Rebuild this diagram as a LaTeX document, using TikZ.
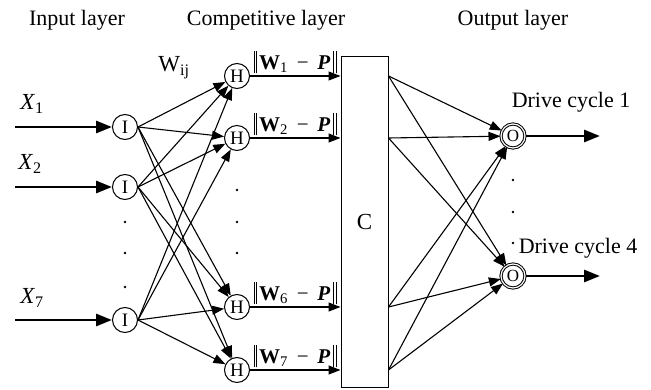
\documentclass[tikz,border=0pt]{standalone}
\usepackage{fontspec}
\setmainfont{Liberation Serif}
\usetikzlibrary{positioning}
\usetikzlibrary{calc}
\usetikzlibrary{arrows.meta}
\newcommand{\nbars}{\rule[-4pt]{0.7pt}{22pt}\kern1.6pt\rule[-4pt]{0.7pt}{22pt}}

\tikzset{
  neuron/.style={circle,draw,line width=1pt,inner sep=0pt,minimum size=25pt,
                 font=\fontsize{19}{19}\selectfont},
  outneuron/.style={neuron,double,double distance=1.2pt,minimum size=24pt,
                    font=\fontsize{17}{17}\selectfont},
  link/.style={line width=1.1pt,-{Triangle[length=12pt,width=9pt]}},
  feed/.style={line width=2.8pt,-{Triangle[length=16pt,width=12pt]}},
  layername/.style={font=\fontsize{22}{26}\selectfont},
  sig/.style={font=\fontsize{23}{26}\selectfont},
  normlabel/.style={font=\fontsize{21}{24}\selectfont,inner sep=1pt},
  dotmark/.style={circle,fill,inner sep=0pt,minimum size=2.8pt},
}

\begin{document}
\begin{tikzpicture}[x=1pt,y=-1pt]
\useasboundingbox (0,0) rectangle (651,390);

% layer titles
\node[layername] (tin)  at (77,20)  {Input layer};
\node[layername] (tcom) at (266,20) {Competitive layer};
\node[layername] (tout) at (513,20) {Output layer};

% input layer
\node[neuron] (I1) at (125,127) {I};
\node[neuron] (I2) at (125,187) {I};
\node[neuron] (I7) at (125,320) {I};
\foreach \y [count=\k] in {222,253,287}
  \node[dotmark] (din\k) at (125,\y) {};

\coordinate (in1) at (15,127);
\coordinate (in2) at (15,187);
\coordinate (in7) at (15,320);
\node[sig] (x1) at (32,104) {\textit{X}\textsubscript{1}};
\node[sig] (x2) at (30,164) {\textit{X}\textsubscript{2}};
\node[sig] (x7) at (32,298) {\textit{X}\textsubscript{7}};
\foreach \i in {1,2,7}
  \draw[feed] (in\i) -- (I\i);

% competitive layer
\node[neuron] (H1) at (237,76)  {H};
\node[neuron] (H2) at (237,138) {H};
\node[neuron] (H6) at (237,307) {H};
\node[neuron] (H7) at (237,370) {H};
\foreach \y [count=\k] in {190,222,253}
  \node[dotmark] (dh\k) at (237,\y) {};
\node[sig] (wij) at (174,68) {W\textsubscript{ij}};

\foreach \i in {1,2,7}
  \foreach \h in {1,2,6,7}
    \draw[link] (I\i.east) -- (H\h);

\node[draw,line width=1pt,minimum width=47pt,minimum height=330pt,
      font=\fontsize{23}{26}\selectfont] (C) at (364.5,222) {C};

\foreach \h in {1,2,6,7}
  \draw[link] (H\h) -- (H\h -| C.west)
    node[midway,above=1pt,normlabel]
    {\nbars\kern2pt\textbf{W}\textsubscript{\h}\ \,−\ \,\textbf{\textit{P}}\kern3pt\nbars};

% output layer
\node[outneuron] (O1) at (513,136) {O};
\node[outneuron] (O2) at (513,276) {O};
\foreach \y [count=\k] in {180,212,243}
  \node[dotmark] (dout\k) at (513,\y) {};

\foreach \h in {1,2,6,7}
  \foreach \o in {1,2}
    \draw[link] (C.east |- H\h) -- (O\o);

\coordinate (out1) at (600,136);
\coordinate (out2) at (600,276);
\draw[feed] (O1) -- (out1);
\draw[feed] (O2) -- (out2);
\node[layername] (d1) at (571,102) {Drive cycle 1};
\node[layername] (d4) at (578,248) {Drive cycle 4};
\end{tikzpicture}
\end{document}
